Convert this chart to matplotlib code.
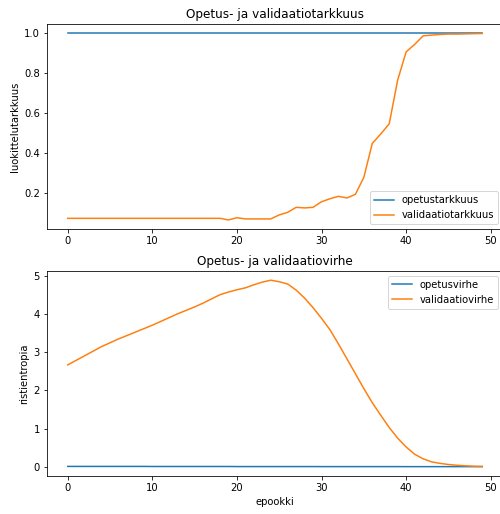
import matplotlib
matplotlib.use("Agg")
import matplotlib.pyplot as plt

# epookit 0..49
epookit = list(range(50))

# tarkkuudet (luettu kuvasta)
opetustarkkuus = [1.0] * 50
validaatiotarkkuus = [
    0.075, 0.075, 0.075, 0.075, 0.075, 0.075, 0.075, 0.075, 0.075, 0.075,
    0.075, 0.075, 0.075, 0.075, 0.075, 0.075, 0.075, 0.075, 0.075, 0.067,
    0.078, 0.072, 0.072, 0.072, 0.072, 0.092, 0.105, 0.130, 0.127, 0.130,
    0.158, 0.173, 0.185, 0.177, 0.195, 0.280, 0.450, 0.497, 0.548, 0.767,
    0.908, 0.945, 0.988, 0.992, 0.995, 0.997, 0.997, 0.998, 0.999, 1.0,
]

# virheet
opetusvirhe = [0.01] * 10 + [0.008] * 10 + [0.006] * 10 + [0.005] * 10 + [0.004] * 10
validaatiovirhe = [
    2.67, 2.79, 2.91, 3.03, 3.15, 3.25, 3.35, 3.44, 3.53, 3.62,
    3.71, 3.81, 3.91, 4.01, 4.10, 4.19, 4.29, 4.40, 4.51, 4.58,
    4.64, 4.69, 4.77, 4.84, 4.89, 4.85, 4.79, 4.63, 4.42, 4.17,
    3.89, 3.59, 3.22, 2.83, 2.44, 2.05, 1.68, 1.35, 1.03, 0.75,
    0.52, 0.33, 0.21, 0.13, 0.09, 0.06, 0.04, 0.025, 0.015, 0.01,
]

fig = plt.figure(figsize=(500 / 72, 514 / 72), dpi=72)

# ylempi kuva: tarkkuus
ax1 = fig.add_axes([0.094, 0.554, 0.912, 0.399])
ax1.plot(epookit, opetustarkkuus, label="opetustarkkuus")
ax1.plot(epookit, validaatiotarkkuus, label="validaatiotarkkuus")
ax1.set_title("Opetus- ja validaatiotarkkuus")
ax1.set_ylabel("luokittelutarkkuus")
ax1.legend(loc="lower right")

# alempi kuva: virhe
ax2 = fig.add_axes([0.094, 0.074, 0.912, 0.399])
ax2.plot(epookit, opetusvirhe, label="opetusvirhe")
ax2.plot(epookit, validaatiovirhe, label="validaatiovirhe")
ax2.set_title("Opetus- ja validaatiovirhe")
ax2.set_xlabel("epookki")
ax2.set_ylabel("ristientropia")
ax2.legend(loc="upper right")

fig.savefig("out.png", dpi=72)
